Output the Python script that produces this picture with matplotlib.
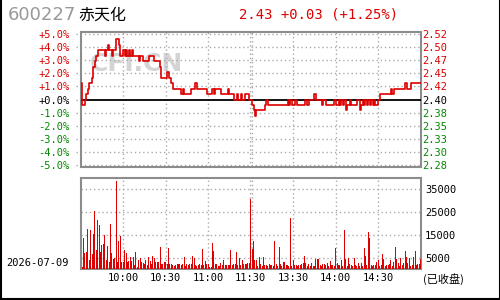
import matplotlib
matplotlib.use("Agg")
import matplotlib.pyplot as plt
from matplotlib.lines import Line2D

code = "600227"
name = "赤天化"
date_label = "2026-07-09"
status_label = "(已收盘)"
prev_close = 2.40
last_price = 2.43

pct_ticks = [5, 4, 3, 2, 1, 0, -1, -2, -3, -4, -5]
vol_ticks = [5000, 15000, 25000, 35000]
time_pos = [30, 60, 90, 120, 150, 180, 210]
time_labels = ["10:00", "10:30", "11:00", "11:30", "13:30", "14:00", "14:30"]

prices = [
    2.43, 2.39, 2.39, 2.40, 2.41, 2.42, 2.43, 2.43, 2.44, 2.46,
    2.47, 2.48, 2.49, 2.49, 2.49, 2.49, 2.49, 2.48, 2.49, 2.50,
    2.49, 2.49, 2.48, 2.49, 2.49, 2.51, 2.51, 2.50, 2.48, 2.48,
    2.49, 2.48, 2.49, 2.48, 2.49, 2.48, 2.49, 2.48, 2.48, 2.48,
    2.48, 2.47, 2.48, 2.48, 2.47, 2.47, 2.47, 2.47, 2.48, 2.48,
    2.48, 2.48, 2.47, 2.47, 2.47, 2.47, 2.46, 2.44, 2.44, 2.44,
    2.44, 2.45, 2.44, 2.44, 2.43, 2.42, 2.42, 2.42, 2.42, 2.42,
    2.42, 2.41, 2.42, 2.41, 2.41, 2.41, 2.41, 2.41, 2.42, 2.42,
    2.42, 2.43, 2.42, 2.42, 2.42, 2.42, 2.42, 2.42, 2.42, 2.41,
    2.41, 2.41, 2.41, 2.42, 2.41, 2.42, 2.42, 2.42, 2.42, 2.41,
    2.41, 2.41, 2.41, 2.41, 2.42, 2.41, 2.41, 2.41, 2.40, 2.40,
    2.41, 2.40, 2.40, 2.41, 2.40, 2.40, 2.41, 2.41, 2.41, 2.40,
    2.40, 2.39, 2.38, 2.37, 2.38, 2.38, 2.38, 2.38, 2.38, 2.38,
    2.39, 2.40, 2.39, 2.39, 2.39, 2.39, 2.39, 2.39, 2.39, 2.39,
    2.39, 2.39, 2.39, 2.39, 2.39, 2.39, 2.40, 2.39, 2.40, 2.39,
    2.39, 2.40, 2.40, 2.39, 2.39, 2.39, 2.39, 2.39, 2.40, 2.40,
    2.39, 2.40, 2.40, 2.40, 2.40, 2.41, 2.40, 2.40, 2.40, 2.40,
    2.39, 2.40, 2.40, 2.39, 2.39, 2.39, 2.39, 2.39, 2.39, 2.40,
    2.39, 2.39, 2.40, 2.39, 2.40, 2.39, 2.40, 2.38, 2.39, 2.39,
    2.40, 2.39, 2.39, 2.39, 2.39, 2.40, 2.40, 2.38, 2.39, 2.40,
    2.39, 2.40, 2.39, 2.40, 2.39, 2.40, 2.39, 2.40, 2.39, 2.39,
    2.40, 2.41, 2.41, 2.41, 2.41, 2.41, 2.41, 2.41, 2.41, 2.42,
    2.41, 2.42, 2.42, 2.42, 2.42, 2.42, 2.42, 2.42, 2.42, 2.43,
    2.42, 2.42, 2.42, 2.43, 2.43, 2.43, 2.43, 2.43, 2.43, 2.43, 2.43,
]

volumes = [
    3400, 800, 13500, 7000, 7500, 17500, 4000, 17300, 6800, 15600,
    25400, 8500, 21800, 19600, 7500, 10600, 11000, 15200, 4200, 10000,
    3000, 20000, 7300, 4700, 5000, 38500, 3000, 12300, 14700, 3000,
    3000, 8500, 7000, 3000, 3500, 5500, 3500, 5500, 2000, 7700,
    1000, 4200, 5000, 3000, 2800, 2500, 4000, 2000, 5500, 3600,
    2200, 6000, 5000, 3000, 3000, 3000, 9600, 2300, 2300, 3000,
    3000, 2300, 9500, 2300, 2300, 2000, 1500, 2000, 2300, 2300,
    2300, 2000, 2300, 5300, 1500, 2300, 2000, 2300, 2300, 6000,
    4800, 1800, 1300, 2000, 2300, 2000, 8900, 2000, 3500, 2500,
    2500, 1200, 1200, 11500, 8200, 2200, 2200, 1500, 1600, 2600,
    2000, 4100, 1900, 1900, 1900, 2000, 8500, 2000, 2200, 2200,
    7600, 2000, 5000, 2000, 4100, 2300, 2500, 2300, 2600, 2600,
    30800, 8900, 12500, 4000, 4200, 1500, 5300, 2300, 1500, 5300,
    2000, 2000, 1500, 2200, 2000, 1800, 1500, 12400, 2300, 1500,
    9600, 2300, 1500, 3200, 3200, 2000, 1700, 1500, 22500, 1500,
    4100, 1900, 1900, 1500, 1900, 2000, 2300, 2800, 5800, 2800,
    1500, 2300, 1500, 2800, 1500, 1500, 4500, 4500, 4500, 1900,
    1500, 2200, 2200, 1900, 2800, 1500, 3800, 2000, 1900, 1500,
    9300, 2800, 1900, 1900, 4100, 1500, 17200, 4500, 1500, 4800,
    2300, 1900, 1500, 4800, 1900, 1500, 2800, 1500, 2600, 1500,
    9200, 5800, 1900, 16300, 13600, 1900, 1500, 1900, 1900, 3000,
    4100, 1500, 1900, 6600, 4400, 1500, 1900, 1900, 2300, 4100,
    1500, 3300, 9600, 4400, 2600, 1500, 4800, 1900, 2600, 8000,
    5300, 2600, 4800, 1500, 1900, 5300, 8000, 1900, 2500, 2500, 4500,
]

RED = "#dd0000"
GREEN = "#008800"
GRAY = "#8c8c8c"
GRID = "#aaaaaa"
MONO = "DejaVu Sans Mono"
CJK = ["Noto Sans CJK SC", "DejaVu Sans"]

minutes = list(range(len(prices)))

fig = plt.figure(figsize=(5, 3), dpi=100)
W, H = 500.0, 300.0

def box(l, t, r, b):
    return [l / W, 1 - b / H, (r - l) / W, (b - t) / H]

ax = fig.add_axes(box(80.7, 32, 420.7, 167))
axv = fig.add_axes(box(80.7, 178, 420.7, 269.3))

span = 5.15
lo, hi = prev_close * (1 - span / 100), prev_close * (1 + span / 100)

for a in (ax, axv):
    a.set_xlim(0, 240)
    for s in a.spines.values():
        s.set_color(GRAY)
        s.set_linewidth(1.5)
    a.set_xticks([])
    a.tick_params(length=0)

ax.set_ylim(lo, hi)
tick_prices = [prev_close * (1 + p / 100) for p in pct_ticks]
for p, yv in zip(pct_ticks, tick_prices):
    if p == 0:
        ax.axhline(yv, color="black", lw=1.3, zorder=3)
        ax.plot([-5 / 340, 0], [yv, yv], transform=ax.get_yaxis_transform(),
                clip_on=False, color=GRID, ls=(0, (1, 2)), lw=1)
    else:
        ax.plot([-5 / 340, 1], [yv, yv], transform=ax.get_yaxis_transform(),
                clip_on=False, color=GRID, ls=(0, (1, 2)), lw=1, zorder=1)
for t in time_pos:
    for a in (ax, axv):
        if t == 120:
            a.axvline(t - 0.6, color=GRID, ls=(0, (1, 2)), lw=1, zorder=1)
            a.axvline(t + 0.6, color=GRID, ls=(0, (1, 2)), lw=1, zorder=1)
        else:
            a.axvline(t, color=GRID, ls=(0, (1, 2)), lw=1, zorder=1)

def col(p):
    return RED if p > 0 else ("black" if p == 0 else GREEN)

ax.set_yticks(tick_prices)
ax.set_yticklabels([("%+.1f%%" % p) if p != 0 else "+0.0%" for p in pct_ticks],
                   family=MONO, fontsize=7.5)
for lab, p in zip(ax.get_yticklabels(), pct_ticks):
    lab.set_color(col(p))
ax.tick_params(axis="y", pad=8)

ax2 = ax.twinx()
ax2.set_ylim(lo, hi)
ax2.set_yticks(tick_prices)
ax2.set_yticklabels(["%.2f" % v for v in tick_prices], family=MONO, fontsize=7.5)
for lab, p in zip(ax2.get_yticklabels(), pct_ticks):
    lab.set_color(col(p))
ax2.tick_params(length=0, pad=1)
for s in ax2.spines.values():
    s.set_visible(False)

ax.text(0.027, 0.765, "CFI.CN", transform=ax.transAxes, fontsize=18,
        fontweight="bold", color="#d4d4d4", ha="left", va="center", zorder=0)

ax.plot(minutes, prices, color=RED, lw=1.2, drawstyle="steps-post", zorder=4)

axv.bar(minutes, volumes, width=0.75, color=RED, align="center", zorder=3)
axv.set_ylim(0, 40000)
for v in vol_ticks:
    axv.axhline(v, color=GRID, ls=(0, (1, 2)), lw=1, zorder=1)
axv.yaxis.tick_right()
axv.set_yticks(vol_ticks)
axv.set_yticklabels([str(v) for v in vol_ticks], family=MONO, fontsize=7.5)
axv.tick_params(axis="y", pad=3)
axv.set_xticks(time_pos)
axv.set_xticklabels(time_labels, family=MONO, fontsize=7.5)
axv.tick_params(axis="x", pad=3)

fig.text(8 / W, 1 - 15 / H, code, fontsize=13, color="#999999", ha="left", va="center")
fig.text(78 / W, 1 - 15 / H, name, family=CJK, fontsize=11.5, color="black",
         ha="left", va="center")
chg = last_price - prev_close
fig.text(239 / W, 1 - 15 / H, "%.2f %+.2f (%+.2f%%)" % (last_price, chg, chg / prev_close * 100),
         family=MONO, fontsize=10, color=RED, ha="left", va="center")
fig.text(6.5 / W, 1 - 262.5 / H, date_label, family=MONO, fontsize=7.5, color="black",
         ha="left", va="center")
fig.text(423 / W, 1 - 279 / H, status_label, family=CJK, fontsize=8, color="black",
         ha="left", va="center")

for xs, ys in (([0.001, 0.001], [0, 1]), ([0.999, 0.999], [0, 1]), ([0, 1], [0.004, 0.004])):
    fig.add_artist(Line2D(xs, ys, transform=fig.transFigure, color="black", lw=1.5))

fig.savefig("out.png", dpi=100, facecolor="white")
